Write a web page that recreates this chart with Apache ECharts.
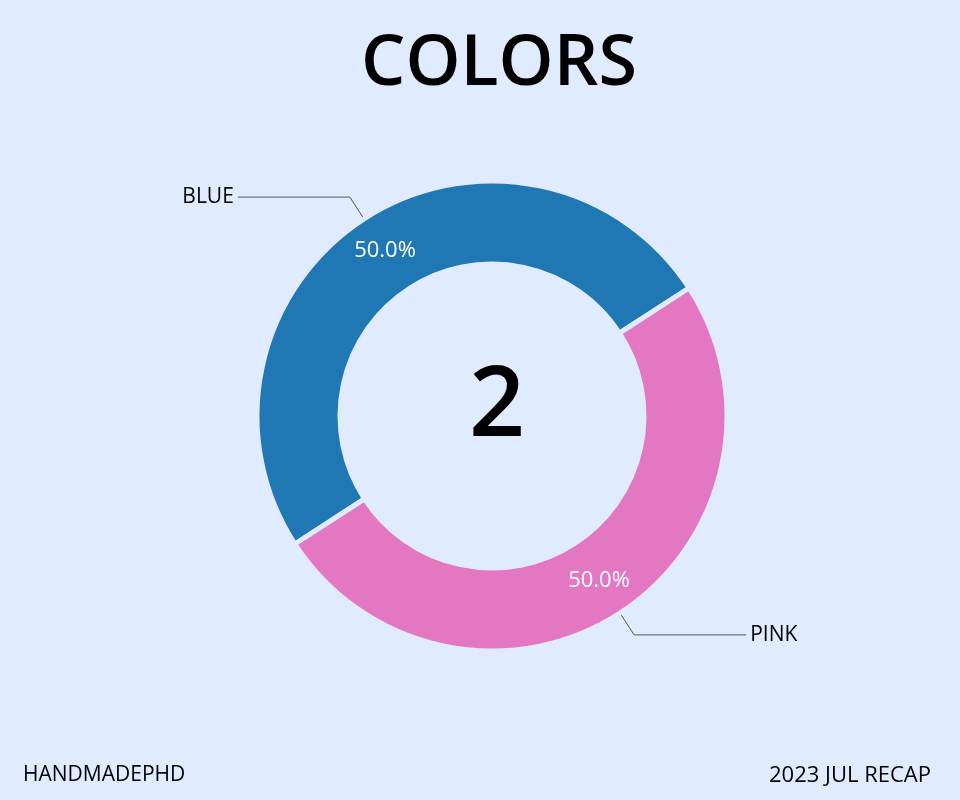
<!DOCTYPE html>
<html><head><meta charset="utf-8">
<script src="https://cdn.jsdelivr.net/npm/echarts@6/dist/echarts.min.js"></script>
<style>html,body{margin:0;padding:0;background:#e0ebff}#c{width:960px;height:800px}</style>
</head><body><div id="c"></div>
<script>
const titleText = 'COLORS';
const categories = ['BLUE', 'PINK'];
const values = [1, 1];
const colors = ['#1f77b4', '#e377c2'];
const centerText = String(categories.length);
const footerLeft = 'HANDMADEPHD';
const footerRight = '2023 JUL RECAP';

const FONT = 'Open Sans';
const bg = '#e0ebff';
const data = categories.map((c, i) => ({ name: c, value: values[i], itemStyle: { color: colors[i] } }));

const chart = echarts.init(document.getElementById('c'));
chart.setOption({
  backgroundColor: bg,
  animation: false,
  title: [
    { text: titleText, left: 494, top: 25, textAlign: 'center', textStyle: { fontFamily: FONT, fontSize: 70, fontWeight: 600, color: '#000' } },
    { text: centerText, left: 492, top: 354, textAlign: 'center', textStyle: { fontFamily: FONT, fontSize: 98, fontWeight: 600, color: '#000' } },
    { text: footerLeft, left: 18, top: 760, textStyle: { fontFamily: FONT, fontSize: 21, fontWeight: 'normal', color: '#000' } },
    { text: footerRight, right: 24, top: 760, textStyle: { fontFamily: FONT, fontSize: 22, fontWeight: 'normal', color: '#000' } }
  ],
  series: [
    {
      type: 'pie', center: [492, 416], radius: [152, 235], startAngle: 213, clockwise: true,
      itemStyle: { borderColor: bg, borderWidth: 5 },
      label: { show: true, position: 'outside', fontFamily: FONT, fontSize: 21, color: '#000', distanceToLabelLine: 4 },
      labelLine: { show: true, length: 26, length2: 112, smooth: false, lineStyle: { color: '#555', width: 1 } },
      data: data, silent: true
    },
    {
      type: 'pie', center: [492, 416], radius: [152, 235], startAngle: 213, clockwise: true,
      itemStyle: { color: 'rgba(0,0,0,0)', borderWidth: 0 },
      label: { show: true, position: 'inside', fontFamily: FONT, fontSize: 22, color: '#fff',
        formatter: p => p.percent.toFixed(1) + '%' },
      labelLine: { show: false },
      data: categories.map((c, i) => ({ name: c, value: values[i] })), silent: true
    }
  ]
});
</script></body></html>
